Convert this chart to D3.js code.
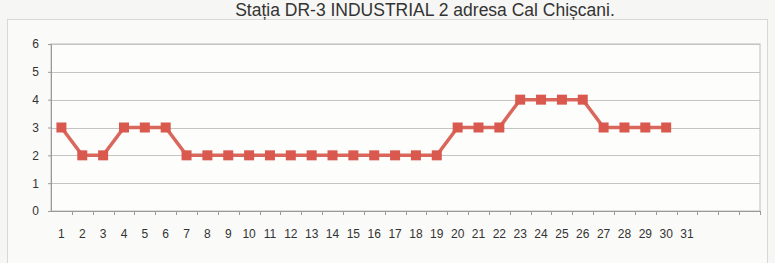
<!DOCTYPE html>
<html>
<head>
<meta charset="utf-8">
<script src="https://cdn.jsdelivr.net/npm/d3@7"></script>
<style>
body { margin:0; background:#f6f6f4; }
text { font-family: "Liberation Sans", Arial, sans-serif; }
</style>
</head>
<body>
<div id="chart"></div>
<script>
var title = "Stația DR-3 INDUSTRIAL 2 adresa Cal Chișcani.";
var days = d3.range(1, 35).map(String);   // 34 category slots, 31 labelled
var dayLabels = d3.range(1, 32).map(String);
var values = [3,2,2,3,3,3,2,2,2,2,2,2,2,2,2,2,2,2,2,3,3,3,4,4,4,4,3,3,3,3];
var yTicks = [0,1,2,3,4,5,6];

var margin = { left:51, right:15, top:44, bottom:52 };
var W = 775, H = 263;
var width = W - margin.left - margin.right,
	height = H - margin.top - margin.bottom;

var svg = d3.select("#chart")
	.append("svg")
	.attr("width", W)
	.attr("height", H);

// outer chart frame
svg.append("rect")
	.attr("x", 7.5).attr("y", 19.5)
	.attr("width", 760).attr("height", 262)
	.attr("fill", "#fafaf8")
	.attr("stroke", "#d8d8d6");

svg.append("text")
	.attr("x", 425)
	.attr("y", 16)
	.attr("text-anchor", "middle")
	.attr("font-size", "17.5px")
	.attr("fill", "#333")
	.text(title);

var g = svg.append("g")
	.attr("transform", "translate(" + margin.left + ", " + margin.top + ")");

var x = d3.scaleBand()
	.domain(days)
	.range([0, width]);

var y = d3.scaleLinear()
	.domain([0, 6])
	.range([height, 0]);

// plot area
g.append("rect")
	.attr("width", width).attr("height", height)
	.attr("fill", "#fdfdfc")
	.attr("stroke", "#bdbdbd");

// gridlines
g.selectAll("line.grid")
	.data(yTicks)
	.enter().append("line")
	.attr("class", "grid")
	.attr("x1", 0).attr("x2", width)
	.attr("y1", function(d){ return Math.round(y(d)) + 0.5; })
	.attr("y2", function(d){ return Math.round(y(d)) + 0.5; })
	.attr("stroke", "#c4c4c4");

// y axis
var yAxisCall = d3.axisLeft(y)
	.tickValues(yTicks)
	.tickFormat(d3.format("d"))
	.tickSize(3)
	.tickPadding(9);
var yAxis = g.append("g").attr("class", "y axis").call(yAxisCall);
yAxis.select(".domain").attr("stroke", "#9a9a9a");
yAxis.selectAll(".tick line").attr("stroke", "#9a9a9a");
yAxis.selectAll("text")
	.attr("font-size", "12px")
	.attr("fill", "#333");

// x axis: labels centred in bands, ticks on band edges
var xAxisCall = d3.axisBottom(x)
	.tickValues(dayLabels)
	.tickSize(0)
	.tickPadding(18);
var xAxis = g.append("g")
	.attr("class", "x axis")
	.attr("transform", "translate(0, " + height + ")")
	.call(xAxisCall);
xAxis.select(".domain").attr("stroke", "#9a9a9a");
xAxis.selectAll("text")
	.attr("font-size", "12px")
	.attr("fill", "#333");

g.selectAll("line.xtick")
	.data(days.slice(1).concat(["end"]))
	.enter().append("line")
	.attr("class", "xtick")
	.attr("x1", function(d){ return Math.round(d == "end" ? width : x(d)) + 0.5; })
	.attr("x2", function(d){ return Math.round(d == "end" ? width : x(d)) + 0.5; })
	.attr("y1", height).attr("y2", height + 4)
	.attr("stroke", "#9a9a9a");

var line = d3.line()
	.x(function(d, i){ return x(days[i]) + x.bandwidth() / 2; })
	.y(function(d){ return y(d); });

g.append("path")
	.datum(values)
	.attr("d", line)
	.attr("fill", "none")
	.attr("stroke", "#d9675c")
	.attr("stroke-width", 3.5);

g.selectAll("rect.pt")
	.data(values)
	.enter().append("rect")
	.attr("class", "pt")
	.attr("x", function(d, i){ return x(days[i]) + x.bandwidth() / 2 - 5; })
	.attr("y", function(d){ return y(d) - 5; })
	.attr("width", 10).attr("height", 10)
	.attr("fill", "#d9594f");
</script>
</body>
</html>
